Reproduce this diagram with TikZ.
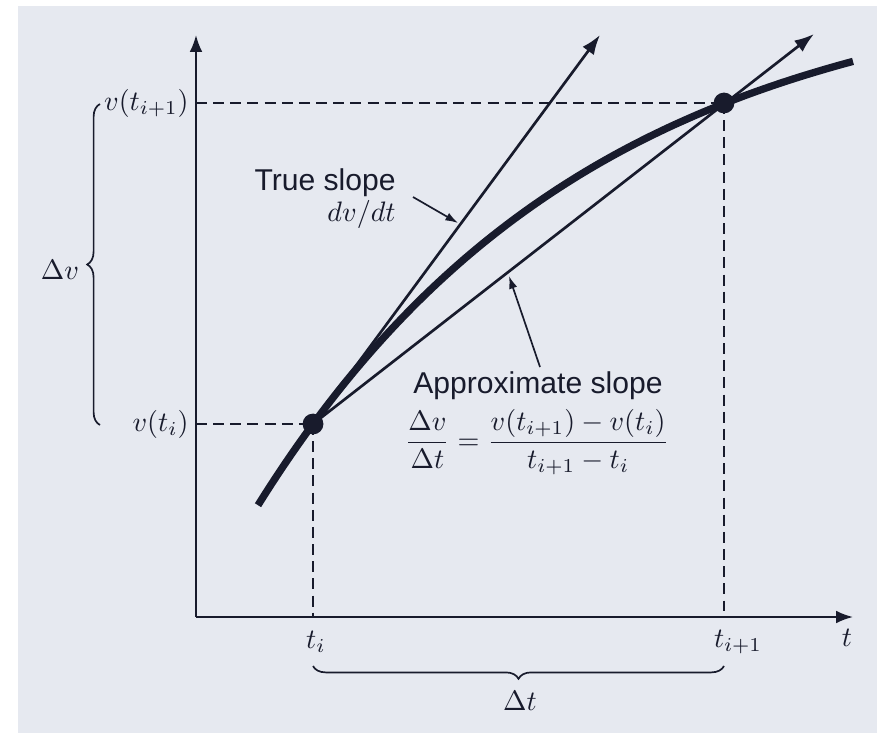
\documentclass[tikz,border=0pt]{standalone}
\usepackage{fontspec}
\setmainfont{Liberation Sans}
\usetikzlibrary{arrows.meta,positioning,decorations.pathreplacing}
\definecolor{ink}{RGB}{24,27,44}
\definecolor{panel}{RGB}{230,233,240}

\begin{document}
\begin{tikzpicture}[
  x=0.0125cm, y=-0.0125cm,
  axis/.style={draw=ink, line width=0.7pt, -{Latex[length=6pt,width=4.5pt]}},
  guide/.style={draw=ink, line width=0.65pt, dash pattern=on 3.9pt off 2.2pt},
  curveline/.style={draw=ink, line width=2.6pt},
  slopeline/.style={draw=ink, line width=0.95pt, -{Latex[length=7pt,width=5pt]}},
  pointer/.style={draw=ink, line width=0.6pt, -{Latex[length=4.5pt,width=3pt]}},
  bracket/.style={draw=ink, line width=0.6pt, decorate, decoration={brace, amplitude=0.16cm}},
  dot/.style={circle, fill=ink, inner sep=0pt, minimum size=0.26cm},
  lbl/.style={text=ink, font=\fontsize{10.7}{13}\selectfont, inner sep=1pt},
  mlbl/.style={text=ink, font=\fontsize{9.6}{12}\selectfont, inner sep=1pt}
]
% panel
\useasboundingbox (0,0) rectangle (877,733);
\fill[panel] (18,6) rectangle (877,733);
% points
\coordinate (O) at (196,617);
\coordinate (ytip) at (196,35);
\coordinate (xtip) at (853,617);
\coordinate (A) at (313,424);
\coordinate (B) at (724,103);
\coordinate (tanEnd) at (600,35);
\coordinate (secEnd) at (814,34);
\coordinate (yA) at (196,424);
\coordinate (yB) at (196,103);
\coordinate (xA) at (313,617);
\coordinate (xB) at (724,617);
% axes
\draw[axis] (O) -- (ytip);
\draw[axis] (O) -- (xtip);
% guides
\draw[guide] (yB) -- (B);
\draw[guide] (yA) -- (A);
\draw[guide] (A) -- (xA);
\draw[guide] (B) -- (xB);
% curve v(t)
\draw[curveline] plot[domain=258:853, samples=90] (\x, {424-451.7*(1-exp(-0.003*(\x-313)))});
% true and approximate slope
\draw[slopeline] (A) -- (tanEnd);
\draw[slopeline] (A) -- (secEnd);
\node[dot] (ptA) at (A) {};
\node[dot] (ptB) at (B) {};
% axis labels
\node[mlbl, anchor=east] (vB) at (192,103) {$v(t_{i+1})$};
\node[mlbl, anchor=east] (vA) at (192,424) {$v(t_i)$};
\node[mlbl] (tA) at (316,642) {$t_i$};
\node[mlbl] (tB) at (738,642) {$t_{i+1}$};
\node[mlbl] (tAxis) at (847,638) {$t$};
% braces
\coordinate (dvTop) at (100,104);
\coordinate (dvBot) at (100,425);
\draw[bracket] (dvBot) -- (dvTop);
\node[mlbl] (dv) at (60,270) {$\Delta v$};
\coordinate (dtL) at (313,666);
\coordinate (dtR) at (724,666);
\draw[bracket] (dtR) -- (dtL);
\node[mlbl] (dt) at (520,701) {$\Delta t$};
% slope labels
\node[lbl, anchor=east] (trueLbl) at (399,183) {True slope};
\node[mlbl, anchor=east] (trueSym) at (399,214) {$dv/dt$};
\coordinate (tsFrom) at (413,197);
\coordinate (tsTo) at (458,223);
\draw[pointer] (tsFrom) -- (tsTo);
\node[lbl] (apxLbl) at (538,386) {Approximate slope};
\node[mlbl] (apxEq) at (537,442) {$\displaystyle\frac{\Delta v}{\Delta t} = \frac{v(t_{i+1}) - v(t_i)}{t_{i+1} - t_i}$};
\coordinate (apFrom) at (540,367);
\coordinate (apTo) at (509,276);
\draw[pointer] (apFrom) -- (apTo);
\end{tikzpicture}
\end{document}
